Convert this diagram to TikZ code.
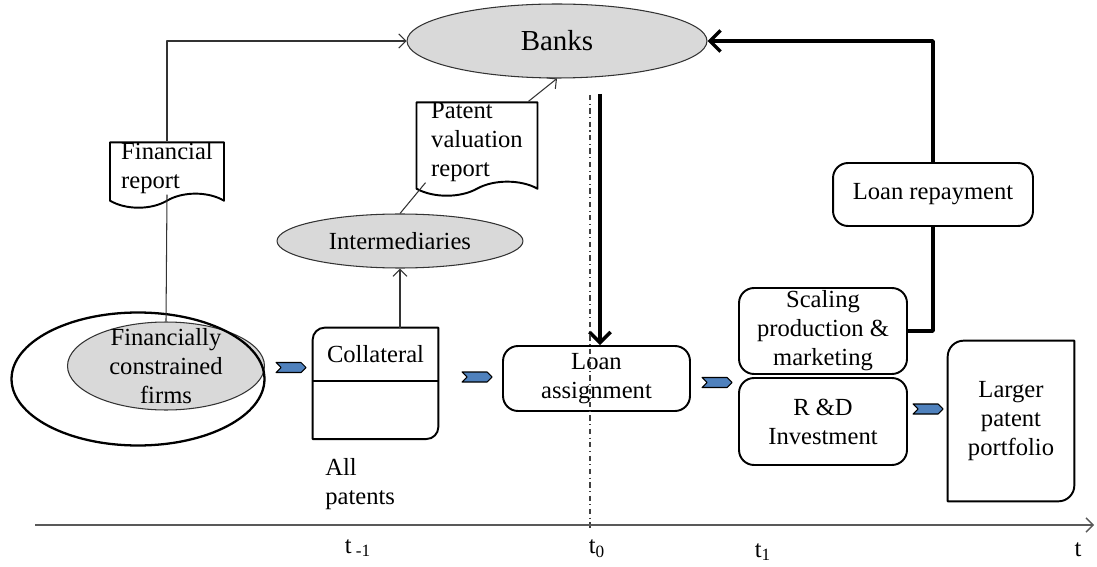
\documentclass[tikz,border=0pt]{standalone}
\usepackage{fontspec}
\setmainfont{Liberation Serif}
\usetikzlibrary{positioning,calc,arrows.meta,shapes.geometric,shapes.symbols}
\definecolor{shade}{HTML}{D9D9D9}
\definecolor{chev}{HTML}{4F81BD}
\tikzset{
  frame/.style={draw=black, line width=1.1pt},
  grayoval/.style={ellipse, draw=black!80, line width=0.6pt, fill=shade, inner sep=0pt},
  roundbox/.style={frame, rounded corners=0.3cm, align=center, inner sep=0pt},
  docbox/.style={tape, tape bend top=none, tape bend bottom=in and out, tape bend height=8pt,
    frame, fill=white, align=left, inner sep=0pt},
  chevron/.style={signal, signal from=west, signal to=east, draw=black, line width=0.6pt,
    fill=chev, minimum width=0.6cm, minimum height=0.2cm, inner sep=0pt},
  flow/.style={draw=black!80, line width=0.6pt, -{Straight Barb[length=4pt,width=8pt]}},
  heavy/.style={draw=black, line width=2pt},
  heavytip/.style={heavy, -{Straight Barb[length=6pt,width=12pt,line width=2pt]}},
  timeline/.style={draw=black!65, line width=0.8pt, -{Straight Barb[length=4pt,width=8pt]}}
}
\newcommand{\RoundTwoCorners}[3]{%
  % #1 = top node, #2 = bottom node, #3 = radius of the top left and bottom right corners
  \draw[frame] (#2.south west) -- ([yshift=-#3]#1.north west)
    arc[start angle=180, end angle=90, radius=#3] -- (#1.north east)
    -- ([yshift=#3]#2.south east) arc[start angle=0, end angle=-90, radius=#3] -- cycle;
}

\begin{document}
\begin{tikzpicture}[x=0.02cm, y=-0.02cm, line join=round,
    every node/.style={font=\fontsize{14}{16.5}\selectfont}]
  \useasboundingbox (0,0) rectangle (1097,567);
  % actors
  \node[grayoval, minimum width=6cm, minimum height=1.48cm,
    font=\fontsize{16.5}{19}\selectfont] (banks) at (557,41) {Banks};
  \node[grayoval, minimum width=3.94cm, minimum height=1.76cm,
    label={[align=center]center:{Financially\\constrained\\firms}}] (firms) at (166,366) {};
  \node[draw=black, ellipse, line width=1.3pt, minimum width=5.06cm, minimum height=2.66cm] (group) at (138,379) {};
  \node[grayoval, minimum width=4.92cm, minimum height=1.08cm] (inter) at (400,241) {Intermediaries};
  % reports
  \node[docbox, minimum width=2.28cm, minimum height=1.26cm] (finrep) at (167,168) {Financial\\report};
  \node[docbox, minimum width=2.42cm, minimum height=1.62cm] (valrep) at (477,142) {Patent\\valuation\\report};
  % collateral
  \node[minimum width=2.5cm, minimum height=1.06cm, inner sep=0pt] (colltop) at (375.5,354.5) {Collateral};
  \node[minimum width=2.5cm, minimum height=1.14cm, inner sep=0pt, below=0pt of colltop] (collbot) {};
  \RoundTwoCorners{colltop}{collbot}{0.24cm}
  \draw[frame] (colltop.south west) -- (colltop.south east);
  \node[anchor=north west, align=left, inner sep=0pt] (allpat) at (325,458) {All\\patents};
  % loan and outcomes
  \node[roundbox, minimum width=3.74cm, minimum height=1.3cm] (loan) at (596.5,378.5) {Loan\\assignment};
  \node[roundbox, minimum width=3.36cm, minimum height=1.72cm] (scale) at (823,331) {Scaling\\production \&\\marketing};
  \node[roundbox, minimum width=3.36cm, minimum height=1.74cm] (rnd) at (823,421.5) {R \&D\\Investment};
  \node[roundbox, minimum width=4cm, minimum height=1.26cm] (repay) at (933,194.5) {Loan repayment};
  \node[minimum width=2.52cm, minimum height=3.2cm, align=center, inner sep=0pt] (lpp) at (1011,421) {Larger\\patent\\portfolio};
  \RoundTwoCorners{lpp}{lpp}{0.32cm}
  % chevrons
  \node[chevron] (c1) at (291,367.5) {};
  \node[chevron] (c2) at (477,377) {};
  \node[chevron] (c3) at (717,382.5) {};
  \node[chevron] (c4) at (928,409) {};
  % connectors
  \draw[draw=black!80, line width=0.6pt] (firms.north) -- (finrep.south);
  \draw[flow] (finrep.north) |- (banks.west);
  \draw[flow] ($(valrep.north east)+(-10,0)$) -- (banks.south);
  \draw[draw=black!80, line width=0.6pt] (inter.north) -- ($(valrep.south west)+(10,0)$);
  \draw[flow] (inter.south |- colltop.north) -- (inter.south);
  \coordinate (fund) at (600,94);
  \draw[heavytip] (fund) -- (fund |- loan.north);
  \draw[heavy] (scale.east) -| (repay.south);
  \draw[heavytip] (repay.north) |- (banks.east);
  % time axis
  \coordinate (cutA) at (590,95);
  \coordinate (cutB) at (590,531);
  \draw[black!75, line width=0.6pt, dash dot] (cutA) -- (cutB);
  \coordinate (axA) at (35,525);
  \coordinate (axB) at (1094,525);
  \draw[timeline] (axA) -- (axB);
  \node (tm1) at (358,548) {t\,\textsubscript{-1}};
  \node (tz) at (597,549) {t\textsubscript{0}};
  \node (tp1) at (763,552) {t\textsubscript{1}};
  \node (tend) at (1078,550) {t};
\end{tikzpicture}
\end{document}
